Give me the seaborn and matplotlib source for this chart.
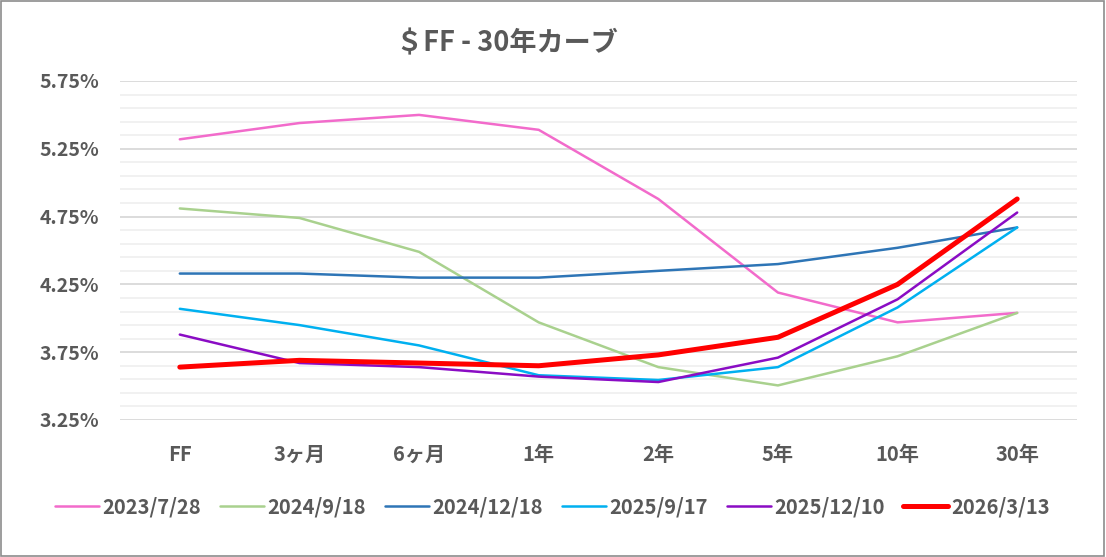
import matplotlib
matplotlib.use("Agg")
import matplotlib.pyplot as plt
import matplotlib.ticker as mticker
import seaborn as sns
import pandas as pd

# tenors on the x axis
tenors = ["FF", "3ヶ月", "6ヶ月", "1年", "2年", "5年", "10年", "30年"]

# curve dates (legend order)
dates = ["2023/7/28", "2024/9/18", "2024/12/18", "2025/9/17", "2025/12/10", "2026/3/13"]

# yields in percent
y_20230728 = [5.32, 5.44, 5.50, 5.39, 4.88, 4.19, 3.97, 4.04]
y_20240918 = [4.81, 4.74, 4.49, 3.97, 3.64, 3.505, 3.72, 4.04]
y_20241218 = [4.33, 4.33, 4.30, 4.30, 4.35, 4.40, 4.52, 4.67]
y_20250917 = [4.07, 3.95, 3.80, 3.58, 3.545, 3.64, 4.08, 4.67]
y_20251210 = [3.88, 3.67, 3.64, 3.57, 3.53, 3.71, 4.14, 4.78]
y_20260313 = [3.64, 3.69, 3.67, 3.65, 3.73, 3.86, 4.25, 4.88]

series = [y_20230728, y_20240918, y_20241218, y_20250917, y_20251210, y_20260313]

# y axis ticks
major_ticks = [3.25, 3.75, 4.25, 4.75, 5.25, 5.75]

colors = ["#F26BCB", "#A9D18E", "#2E75B6", "#00B0F0", "#8A0CC4", "#FF0000"]
widths = [1.8, 1.8, 1.8, 1.8, 1.8, 3.6]

rows = []
for d, vals in zip(dates, series):
    for t, v in zip(tenors, vals):
        rows.append({"date": d, "tenor": t, "yield": v})
df = pd.DataFrame(rows)

sns.set_theme(style="white")
plt.rcParams["font.family"] = ["Noto Sans CJK JP", "DejaVu Sans"]

text_color = "#595959"

fig = plt.figure(figsize=(11.06, 5.57), dpi=100)
ax = fig.add_axes([120 / 1106, 137 / 557, 957 / 1106, 339 / 557])

sns.lineplot(data=df, x="tenor", y="yield", hue="date", hue_order=dates,
             palette=colors, size="date", size_order=dates, sizes=widths,
             sort=False, ax=ax, legend=True)

ax.set_xlim(-0.5, len(tenors) - 0.5)
ax.set_ylim(major_ticks[0], major_ticks[-1])
ax.yaxis.set_major_locator(mticker.FixedLocator(major_ticks))
minor = [major_ticks[0] + 0.1 * i for i in range(26)]
ax.yaxis.set_minor_locator(mticker.FixedLocator(minor))
ax.yaxis.set_major_formatter(mticker.FuncFormatter(lambda v, p: f"{v:.2f}%"))
ax.grid(which="major", axis="y", color="#D9D9D9", linewidth=1.3)
ax.grid(which="minor", axis="y", color="#F0F0F0", linewidth=1.3)
ax.set_axisbelow(True)
for s in ax.spines.values():
    s.set_visible(False)
ax.tick_params(axis="both", which="both", length=0)
ax.tick_params(axis="y", pad=15, labelsize=14, labelcolor=text_color)
ax.tick_params(axis="x", pad=17, labelsize=14.5, labelcolor=text_color)
for lab in ax.get_xticklabels() + ax.get_yticklabels():
    lab.set_fontweight("bold")
ax.set_xlabel("")
ax.set_ylabel("")

fig.text(507 / 1106, 1 - 43 / 557, "＄FF - 30年カーブ", ha="center", va="center",
         fontsize=19.5, fontweight="bold", color=text_color)

handles, labels = ax.get_legend_handles_labels()
ax.legend(handles, labels, loc="center", bbox_to_anchor=(552 / 1106, 1 - 507 / 557),
          bbox_transform=fig.transFigure, ncol=6, frameon=False,
          handlelength=2.2, handletextpad=0.15, columnspacing=0.95,
          labelcolor=text_color, prop={"weight": "bold", "size": 14.5})

# outer border
fig.patches.append(plt.Rectangle((0.001, 0.002), 0.997, 0.996, transform=fig.transFigure,
                                 fill=False, edgecolor="#8C8C8C", linewidth=1.2))

fig.savefig("out.png", dpi=100)
